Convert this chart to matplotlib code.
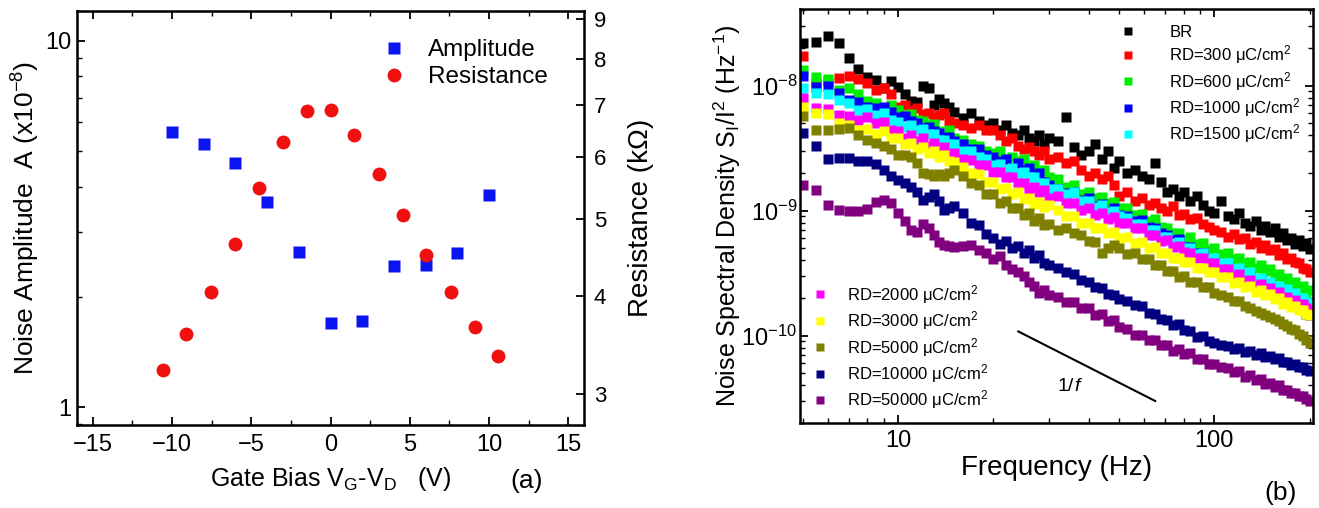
import matplotlib
matplotlib.use("Agg")
import matplotlib.pyplot as plt
import numpy as np
from matplotlib.lines import Line2D
from matplotlib.ticker import FixedLocator, NullLocator, LogLocator, NullFormatter

plt.rcParams["font.family"] = ["Liberation Sans", "DejaVu Sans"]
plt.rcParams["mathtext.fontset"] = "custom"
plt.rcParams["mathtext.rm"] = "Liberation Sans"
plt.rcParams["mathtext.it"] = "Liberation Sans:italic"
plt.rcParams["mathtext.default"] = "regular"

# ---- panel (a): gate bias sweep ----
bias_amp = [-10, -8, -6, -4, -2, 0, 2, 4, 6, 8, 10]
amplitude = [5.65, 5.22, 4.63, 3.64, 2.66, 1.70, 1.72, 2.43, 2.45, 2.64, 3.79]  # x1e-8

bias_res = [-10.6, -9.1, -7.55, -6.0, -4.5, -3.0, -1.5, 0.0, 1.5, 3.05, 4.55, 6.05, 7.6, 9.1, 10.6]
resistance = [3.22, 3.57, 4.04, 4.65, 5.48, 6.28, 6.87, 6.89, 6.40, 5.72, 5.06, 4.50, 4.04, 3.65, 3.35]  # kOhm

# ---- panel (b): noise spectra, S_I/I^2 in units of 1e-10 Hz^-1 ----
freq = [5, 5.5, 6, 6.5, 7, 7.5, 8, 8.5, 9, 9.5, 10, 10.5, 11, 11.5, 12, 12.5, 13, 13.5, 14, 14.5, 15,
        16, 17, 18, 19, 20, 21, 22, 23, 24, 25, 26, 27, 28, 29, 30,
        32, 34, 36, 38, 40, 42, 44, 46, 48, 50,
        53, 56, 59, 62, 65, 68, 71, 74, 77, 80,
        84, 88, 92, 96, 100,
        105, 110, 115, 120, 125, 130, 135, 140, 145, 150, 155, 160, 165, 170, 175, 180, 185, 190, 195, 200]

sd_br = [220, 222, 250, 220, 165, 135, 118, 110, 96, 108, 98, 85, 75, 74, 100, 95, 70, 78, 72, 68, 62,
         55, 60, 52, 48, 50, 44, 48, 42, 40, 44, 38, 36, 40, 34, 38,
         36, 56, 32, 28, 30, 34, 26, 30, 22, 25,
         20, 21, 19, 18, 24, 17, 14, 15, 13, 14,
         12, 13, 11, 10, 9.6,
         12, 9.0, 8.5, 9.5, 8.0, 7.5, 8.2, 7.0, 7.6, 6.8, 7.2, 6.2, 6.6, 5.8, 6.0, 5.4, 5.8, 5.2, 5.5, 4.9]
sd_300 = [172, 105, 108, 115, 120, 112, 105, 93, 95, 85, 68, 70, 64, 66, 59, 60, 55, 58, 60, 52, 50,
          48, 46, 48, 44, 44, 40, 36, 38, 33, 31, 32, 30, 28, 30, 26,
          27, 24, 25, 21, 19, 20, 18, 19, 16, 13,
          14, 12, 12.5, 11, 11.5, 10.5, 10, 10.8, 9.2, 9.4,
          8.6, 8.8, 7.8, 7.4, 7.0,
          6.8, 6.2, 6.5, 5.9, 6.0, 5.4, 5.6, 5.0, 5.3, 4.8, 4.9, 4.4, 4.6, 4.1, 4.2, 3.9, 3.8, 3.5, 3.4, 3.2]
sd_600 = [134, 118, 112, 92, 95, 85, 75, 72, 64, 70, 64, 58, 59, 53, 52, 48, 49, 43, 41, 44, 38,
          37, 34, 33, 30, 29, 30, 26, 27, 25, 26, 22, 23, 20, 21, 18.5,
          18, 15.5, 16, 13.5, 14, 12.5, 12.8, 11.5, 11.8, 10.5,
          10.4, 9.2, 9.4, 8.3, 8.6, 7.4, 7.3, 6.6, 6.6, 5.8,
          6.1, 5.4, 5.5, 4.8, 5.0,
          4.5, 4.6, 4.1, 4.2, 3.8, 3.9, 3.5, 3.7, 3.3, 3.4, 3.0, 3.1, 2.8, 2.9, 2.6, 2.7, 2.4, 2.5, 2.2, 2.3]
sd_1000 = [119, 98, 100, 88, 77, 74, 68, 66, 68, 62, 56, 57, 52, 50, 46, 47, 43, 42, 38, 39, 36,
           34, 31, 31, 28, 27, 25, 26, 22, 24, 21, 22, 19, 20, 17, 16,
           15, 13.8, 14, 12.2, 12.6, 10.8, 11.4, 10, 10.4, 9.3,
           9.0, 8.2, 8.4, 7.4, 7.2, 6.6, 6.4, 5.8, 5.9, 5.1,
           5.1, 4.6, 4.6, 4.0, 4.0,
           3.6, 3.7, 3.2, 3.3, 2.9, 3.0, 2.7, 2.8, 2.5, 2.6, 2.3, 2.4, 2.1, 2.1, 1.9, 1.9, 1.7, 1.7, 1.5, 1.45]
sd_1500 = [96, 88, 86, 76, 72, 64, 65, 58, 60, 53, 51, 47, 48, 44, 45, 41, 41, 37, 37, 34, 34,
           30, 30, 27, 26, 23, 23.5, 21, 22, 20, 20.5, 18.5, 18.5, 16.5, 16.5, 15,
           15, 13.5, 14, 12, 12, 10.6, 11, 9.8, 10, 9.0,
           8.8, 7.8, 7.8, 7.0, 7.0, 6.2, 6.2, 5.5, 5.6, 5.0,
           5.0, 4.5, 4.6, 4.1, 4.2,
           3.8, 3.8, 3.4, 3.5, 3.1, 3.2, 2.85, 2.9, 2.65, 2.7, 2.5, 2.5, 2.3, 2.35, 2.15, 2.2, 2.0, 2.0, 1.85, 1.8]
sd_2000 = [80, 66, 65, 58, 57, 53, 56, 50, 51, 44, 43, 38, 40, 36, 38, 33, 35, 30, 32, 28, 29,
           26, 25.5, 23, 23, 20.5, 20.5, 18.5, 18.5, 16.5, 16.5, 15, 15.5, 14, 14.5, 12.5,
           13, 11.5, 11.5, 10.2, 10.4, 9.2, 9.6, 8.6, 8.9, 8.0,
           8.0, 7.2, 7.3, 6.4, 6.4, 5.7, 5.8, 5.1, 5.2, 4.7,
           4.6, 4.2, 4.2, 3.8, 3.8,
           3.4, 3.4, 3.0, 3.1, 2.75, 2.8, 2.5, 2.6, 2.35, 2.4, 2.2, 2.25, 2.0, 2.05, 1.88, 1.92, 1.76, 1.78, 1.65, 1.6]
sd_3000 = [68, 60, 59, 50, 48, 44, 45, 41, 43, 38, 38, 34, 35, 31, 32, 29, 30, 27, 28, 25, 24.5,
           22.5, 20, 19.5, 17, 17, 15, 15.2, 13.6, 14, 12.4, 12.6, 11.4, 11.8, 10.6, 11,
           10.2, 9.0, 9.0, 8.0, 8.0, 7.2, 7.3, 6.6, 6.7, 6.0,
           6.1, 5.5, 5.6, 5.0, 5.1, 4.6, 4.6, 4.2, 4.2, 3.9,
           3.9, 3.5, 3.5, 3.2, 3.2,
           2.95, 2.95, 2.65, 2.7, 2.45, 2.5, 2.25, 2.3, 2.1, 2.15, 1.95, 2.0, 1.8, 1.85, 1.68, 1.72, 1.6, 1.6, 1.5, 1.45]
sd_5000 = [57, 44, 44, 45, 46, 40, 37, 35, 33, 31, 28, 28, 27, 24, 20, 19.5, 19, 19.5, 19, 20, 21,
           19, 16.5, 16, 13.5, 13.5, 11.5, 12, 10.5, 10.5, 9.2, 9.6, 8.3, 8.7, 7.7, 7.8,
           7.0, 7.2, 6.6, 6.4, 5.7, 5.6, 4.6, 5.0, 5.3, 5.0,
           4.5, 4.6, 4.1, 4.1, 3.7, 3.7, 3.3, 3.3, 2.95, 3.0,
           2.7, 2.7, 2.45, 2.45, 2.2,
           2.1, 2.05, 1.88, 1.9, 1.72, 1.65, 1.58, 1.52, 1.46, 1.42, 1.35, 1.3, 1.24, 1.2, 1.13, 1.1, 1.03, 1.0, 0.93, 0.87]
sd_10000 = [42, 33, 26, 26.5, 26.5, 25, 25, 23.5, 21, 19, 17.5, 16.5, 15.5, 14, 12.2, 12.8, 13.5, 12, 10.2, 10.5, 10.8,
            9.5, 8.0, 7.7, 6.5, 6.0, 5.4, 5.7, 5.0, 5.2, 4.6, 4.8, 4.2, 4.4, 3.8, 3.7,
            3.5, 3.2, 3.1, 2.8, 2.7, 2.45, 2.4, 2.15, 2.1, 1.95,
            1.9, 1.75, 1.72, 1.52, 1.5, 1.36, 1.34, 1.22, 1.24, 1.1,
            1.08, 0.98, 1.0, 0.9, 0.88,
            0.84, 0.82, 0.78, 0.79, 0.74, 0.75, 0.7, 0.72, 0.67, 0.69, 0.65, 0.66, 0.61, 0.62, 0.58, 0.59, 0.56, 0.56, 0.53, 0.52]
sd_50000 = [16, 14.5, 11, 10.2, 10, 10, 10.3, 11.8, 12.2, 11.5, 9.6, 8.2, 7, 6.8, 7.8, 7.2, 6.4, 5.6, 5.3, 5.2, 5.1,
            5.2, 5.3, 4.8, 4.6, 4.1, 4.3, 3.7, 3.4, 3.2, 3.0, 2.7, 2.5, 2.2, 2.3, 2.1,
            2.05, 1.85, 1.85, 1.65, 1.66, 1.45, 1.5, 1.3, 1.34, 1.17,
            1.14, 1.02, 1.02, 0.92, 0.93, 0.84, 0.84, 0.76, 0.78, 0.71,
            0.72, 0.65, 0.65, 0.59, 0.59,
            0.56, 0.55, 0.51, 0.52, 0.47, 0.48, 0.44, 0.45, 0.41, 0.42, 0.39, 0.4, 0.37, 0.37, 0.35, 0.35, 0.33, 0.33, 0.31, 0.3]

series_labels = ["BR", "300", "600", "1000", "1500", "2000", "3000", "5000", "10000", "50000"]
series_data = [sd_br, sd_300, sd_600, sd_1000, sd_1500, sd_2000, sd_3000, sd_5000, sd_10000, sd_50000]
series_colors = ["#000000", "#ff0000", "#00ee00", "#0000ff", "#00ffff",
                 "#ff00ff", "#ffff00", "#808000", "#000080", "#800080"]

# guide line for 1/f slope
guide_f = [24.0, 65.0]
guide_s = [1.08e-10, 3.0e-11]

fig = plt.figure(figsize=(13.19, 5.08), dpi=100)


def style_ticks(ax, size):
    ax.tick_params(which="both", direction="in", top=True, labelsize=size)
    ax.tick_params(which="major", length=6, width=1.3)
    ax.tick_params(which="minor", length=3.5, width=1.0)
    for s in ax.spines.values():
        s.set_linewidth(1.8)


# ---------------- (a) ----------------
ax1 = fig.add_axes([0.0584, 0.163, 0.3844, 0.815])
ax1.plot(bias_amp, amplitude, "s", ms=9, color="#0a14f0", mec="none", label="Amplitude")
ax1.set_yscale("log")
ax1.set_ylim(0.893, 12.05)
ax1.set_xlim(-16, 16)
ax1.xaxis.set_major_locator(FixedLocator([-15, -10, -5, 0, 5, 10, 15]))
ax1.xaxis.set_minor_locator(FixedLocator(np.arange(-15, 15.1, 2.5)))
ax1.yaxis.set_major_locator(FixedLocator([1, 10]))
ax1.set_yticklabels(["1", "10"])
ax1.yaxis.set_minor_locator(LogLocator(base=10, subs=range(2, 10)))
ax1.yaxis.set_minor_formatter(NullFormatter())
style_ticks(ax1, 17)
ax1.tick_params(axis="y", which="both", right=False, pad=4)
ax1.tick_params(axis="x", pad=6)
ax1.set_ylabel("Noise Amplitude  A (x10$^{-8}$)", fontsize=19, labelpad=2)
ax1.set_xlabel("Gate Bias V$_\\mathrm{G}$-V$_\\mathrm{D}$   (V)", fontsize=18, labelpad=7)
ax1.text(0.886, -0.135, "(a)", transform=ax1.transAxes, fontsize=19, ha="center", va="center")

ax2 = ax1.twinx()
ax2.plot(bias_res, resistance, "o", ms=10, color="#f01010", mec="none", label="Resistance")
ax2.set_yscale("log")
ax2.set_ylim(2.735, 9.21)
ax2.yaxis.set_major_locator(FixedLocator([3, 4, 5, 6, 7, 8, 9]))
ax2.set_yticklabels(["3", "4", "5", "6", "7", "8", "9"])
ax2.yaxis.set_minor_locator(NullLocator())
ax2.tick_params(axis="y", which="major", direction="in", length=6, width=1.3, labelsize=16, pad=7)
ax2.set_ylabel("Resistance (k\u03a9)", fontsize=20, labelpad=16)

h1 = Line2D([], [], ls="none", marker="s", ms=9, color="#0a14f0", mec="none")
h2 = Line2D([], [], ls="none", marker="o", ms=10, color="#f01010", mec="none")
ax1.legend([h1, h2], ["Amplitude", "Resistance"], loc="upper left", bbox_to_anchor=(0.553, 0.985),
           frameon=False, fontsize=17.5, handletextpad=0.8, labelspacing=0.2, handlelength=1.2)

# ---------------- (b) ----------------
ax3 = fig.add_axes([0.6065, 0.1673, 0.389, 0.815])
handles = []
for lab, vals, col in zip(series_labels, series_data, series_colors):
    s = np.array(vals) * 1e-10
    ax3.plot(freq, s, "s", ms=6.5, color=col, mec="none")
    handles.append(Line2D([], [], ls="none", marker="s", ms=6, color=col, mec="none"))
ax3.plot(guide_f, guide_s, "k-", lw=1.5)
ax3.text(36, 3.9e-11, "1/", fontsize=14, ha="right", va="center")
ax3.text(36, 3.9e-11, "f", fontsize=14, style="italic", ha="left", va="center")
ax3.set_xscale("log")
ax3.set_yscale("log")
ax3.set_xlim(4.9, 205)
ax3.set_ylim(2.0e-11, 4.1e-8)
ax3.xaxis.set_major_locator(FixedLocator([10, 100]))
ax3.set_xticklabels(["10", "100"])
ax3.xaxis.set_minor_locator(LogLocator(base=10, subs=range(2, 10)))
ax3.xaxis.set_minor_formatter(NullFormatter())
ax3.yaxis.set_major_locator(FixedLocator([1e-10, 1e-9, 1e-8]))
ax3.set_yticklabels(["10$^{-10}$", "10$^{-9}$", "10$^{-8}$"])
ax3.yaxis.set_minor_locator(LogLocator(base=10, subs=range(2, 10)))
ax3.yaxis.set_minor_formatter(NullFormatter())
style_ticks(ax3, 17)
ax3.tick_params(which="both", right=True)
ax3.tick_params(axis="x", pad=5)
ax3.tick_params(axis="y", pad=2)
ax3.set_ylabel("Noise Spectral Density S$_\\mathrm{I}$/I$^2$ (Hz$^{-1}$)", fontsize=18, labelpad=-1)
ax3.set_xlabel("Frequency (Hz)", fontsize=20, labelpad=2)
ax3.text(0.936, -0.169, "(b)", transform=ax3.transAxes, fontsize=19, ha="center", va="center")

names = ["BR"] + ["RD=%s \u03bcC/cm$^2$" % v for v in series_labels[1:]]
leg1 = ax3.legend(handles[:5], names[:5], loc="upper left", bbox_to_anchor=(0.6, 0.99),
                  frameon=False, fontsize=12, handletextpad=2.0, labelspacing=0.21,
                  handlelength=1.0, borderaxespad=0.3)
ax3.add_artist(leg1)
ax3.legend(handles[5:], names[5:], loc="lower left", bbox_to_anchor=(0.0, 0.0),
           frameon=False, fontsize=12, handletextpad=1.15, labelspacing=0.21,
           handlelength=1.0, borderaxespad=0.3)

fig.savefig("out.png", dpi=100)
